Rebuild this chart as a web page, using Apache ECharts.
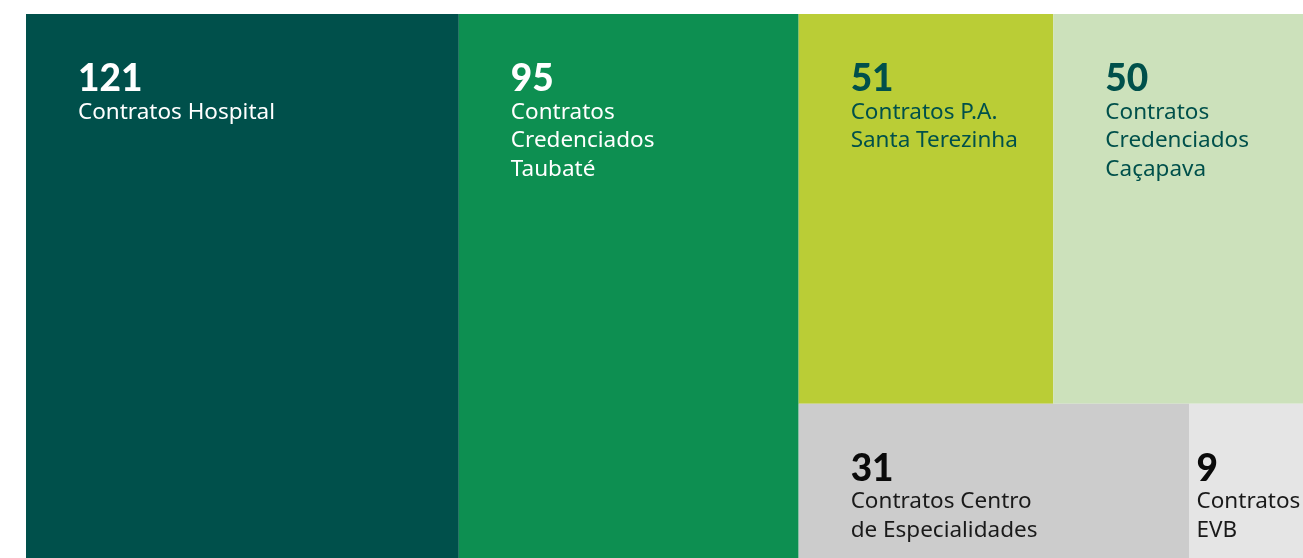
<!DOCTYPE html>
<html>
<head>
<meta charset="utf-8">
<script src="https://cdn.jsdelivr.net/npm/echarts@6/dist/echarts.min.js"></script>
<style>
html,body{margin:0;padding:0;background:#ffffff;}
#chart{width:1303px;height:558px;}
</style>
</head>
<body>
<div id="chart"></div>
<script>
const names = ['Contratos Hospital', 'Contratos\nCredenciados\nTaubaté', 'Contratos P.A.\nSanta Terezinha', 'Contratos\nCredenciados\nCaçapava', 'Contratos Centro\nde Especialidades', 'Contratos\nEVB'];
const values = [121, 95, 51, 50, 31, 9];
const cellColors = ['#00504b', '#0d8f51', '#bacd36', '#cce1bb', '#cccccc', '#e5e5e5'];
const numberColors = ['#ffffff', '#ffffff', '#00504b', '#00504b', '#0a0a0a', '#0a0a0a'];
const textColors = ['#ffffff', '#ffffff', '#00504b', '#00504b', '#1a1a1a', '#1a1a1a'];
const labelOffsetX = [47, 47, 47, 47, 47, 2];

const data = values.map((v, i) => ({
  name: names[i],
  value: v,
  itemStyle: { color: cellColors[i], borderWidth: 0, gapWidth: 0 },
  label: {
    position: [labelOffsetX[i], 41],
    rich: {
      n: { fontFamily: 'Lato, "Noto Sans", sans-serif', fontWeight: 900, fontSize: 37, lineHeight: 38, color: numberColors[i] },
      t: { fontFamily: '"Noto Sans", "Open Sans", sans-serif', fontSize: 22.5, lineHeight: 28.5, color: textColors[i] }
    }
  }
}));

const chart = echarts.init(document.getElementById('chart'), null, { renderer: 'canvas' });
chart.setOption({
  animation: false,
  series: [{
    type: 'treemap',
    left: 26, top: 14, right: 0, bottom: 0,
    sort: false,
    roam: false,
    nodeClick: false,
    breadcrumb: { show: false },
    squareRatio: 1,
    itemStyle: { borderWidth: 0, gapWidth: 0, borderColor: 'transparent' },
    upperLabel: { show: false },
    label: {
      show: true,
      overflow: 'none',
      formatter: p => '{n|' + p.value + '}\n{t|' + p.name + '}'
    },
    levels: [{ itemStyle: { borderWidth: 0, gapWidth: 0 } }],
    data: data
  }]
});
</script>
</body>
</html>
